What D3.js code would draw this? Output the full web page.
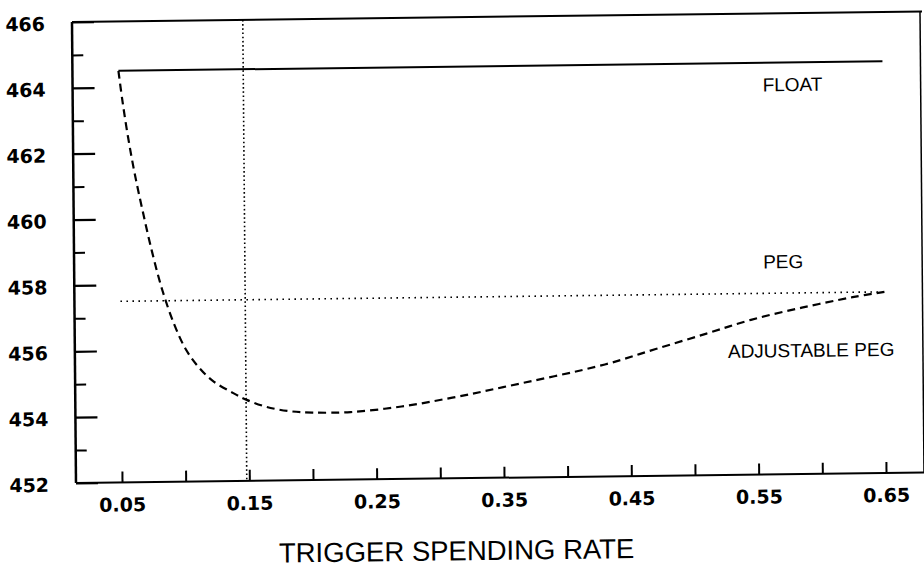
<!DOCTYPE html>
<html>
<head>
<meta charset="utf-8">
<script src="https://cdn.jsdelivr.net/npm/d3@7"></script>
<style>
  body { margin: 0; background: #fff; }
  svg { display: block; }
  .tick text { font-family: "DejaVu Sans", sans-serif; font-size: 19px; font-weight: bold; fill: #000; }
  .lbl { font-family: "Liberation Sans", Arial, sans-serif; font-size: 19px; fill: #000; }
</style>
</head>
<body>
<svg id="chart"></svg>
<script>
// values
var xMajor = [0.05, 0.15, 0.25, 0.35, 0.45, 0.55, 0.65];
var xAll = [0.05, 0.10, 0.15, 0.20, 0.25, 0.30, 0.35, 0.40, 0.45, 0.50, 0.55, 0.60, 0.65];
var yMajor = [452, 454, 456, 458, 460, 462, 464, 466];
var yMinor = [453, 455, 457, 459, 461, 463, 465];

var floatX = [0.05, 0.65];
var floatY = [464.5, 464.5];
var pegX = [0.05, 0.65];
var pegY = [457.5, 457.5];
var adjX = [0.05, 0.053, 0.057, 0.062, 0.068, 0.075, 0.083, 0.092, 0.101, 0.111, 0.122,
            0.138, 0.1485, 0.164, 0.182, 0.2, 0.23, 0.27, 0.31, 0.35, 0.43, 0.47,
            0.51, 0.545, 0.585, 0.625, 0.65];
var adjY = [464.5, 463.57, 462.51, 461.39, 460.25, 459.02, 457.82, 456.79, 456.02, 455.47, 455.05,
            454.67, 454.46, 454.24, 454.1, 454.05, 454.05, 454.2, 454.45, 454.75, 455.4, 455.85,
            456.3, 456.7, 457.05, 457.35, 457.5];
var triggerX = 0.148;

var width = 924, height = 567;
var pLeft = 76, pRight = 926, pTop = 22, pBottom = 483;

var svg = d3.select('#chart')
    .attr('width', width)
    .attr('height', height);

svg.append('rect').attr('width', width).attr('height', height).attr('fill', '#fff');

// the scan is slightly skewed, so the whole plot is tilted a bit
var g = svg.append('g')
    .attr('transform', 'translate(' + pLeft + ',' + pBottom + ') matrix(1,-0.0124,0.0087,1,0,0) translate(' + (-pLeft) + ',' + (-pBottom) + ')');

var x = d3.scaleLinear().domain([0.05, 0.65]).range([122, 886]);
var y = d3.scaleLinear().domain([452, 466]).range([pBottom, pTop]);

// frame
g.append('line').attr('x1', pLeft).attr('x2', pLeft).attr('y1', pTop).attr('y2', pBottom)
    .attr('stroke', '#000').attr('stroke-width', 2.5);
g.append('line').attr('x1', pLeft).attr('x2', pRight).attr('y1', pBottom).attr('y2', pBottom)
    .attr('stroke', '#000').attr('stroke-width', 2);
g.append('line').attr('x1', pLeft).attr('x2', pRight).attr('y1', pTop).attr('y2', pTop)
    .attr('stroke', '#000').attr('stroke-width', 2);
g.append('line').attr('x1', pRight - 2).attr('x2', pRight - 2).attr('y1', pTop).attr('y2', pBottom)
    .attr('stroke', '#000').attr('stroke-width', 1.5);

// y axis: major ticks with labels, minor ticks without
var yAx = g.append('g')
    .attr('transform', 'translate(' + pLeft + ',0)')
    .call(d3.axisLeft(y).tickValues(yMajor).tickSize(-22).tickPadding(27).tickFormat(d3.format('d')));
yAx.select('.domain').remove();
yAx.selectAll('.tick line').attr('stroke-width', 2.2);
yAx.selectAll('.tick text').attr('dy', null).attr('y', 8);

var yAx2 = g.append('g')
    .attr('transform', 'translate(' + pLeft + ',0)')
    .call(d3.axisLeft(y).tickValues(yMinor).tickSize(-11).tickFormat(''));
yAx2.select('.domain').remove();
yAx2.selectAll('.tick line').attr('stroke-width', 2);

// x axis
var xAx = g.append('g')
    .attr('transform', 'translate(0,' + pBottom + ')')
    .call(d3.axisBottom(x).tickValues(xAll).tickSize(-11)
      .tickFormat(function(d){ return xMajor.some(function(m){return Math.abs(m-d) < 1e-9;}) ? d3.format('.2f')(d) : ''; }));
xAx.select('.domain').remove();
xAx.selectAll('.tick line').attr('stroke-width', 2);
xAx.selectAll('.tick text').attr('dy', null).attr('y', 29);

// series
var line = d3.line().x(function(d){return x(d[0]);}).y(function(d){return y(d[1]);});
var lineCurve = d3.line().curve(d3.curveCatmullRom.alpha(0.5)).x(function(d){return x(d[0]);}).y(function(d){return y(d[1]);});

g.append('path')
    .attr('d', line(d3.zip(floatX, floatY)))
    .attr('fill', 'none').attr('stroke', '#000').attr('stroke-width', 2);

g.append('path')
    .attr('d', line(d3.zip(pegX, pegY)))
    .attr('fill', 'none').attr('stroke', '#000').attr('stroke-width', 1.6)
    .attr('stroke-dasharray', '1.6,4.4');

g.append('path')
    .attr('d', lineCurve(d3.zip(adjX, adjY)))
    .attr('fill', 'none').attr('stroke', '#000').attr('stroke-width', 2.2)
    .attr('stroke-dasharray', '8,5');

g.append('line')
    .attr('x1', x(triggerX)).attr('x2', x(triggerX))
    .attr('y1', pTop).attr('y2', pBottom)
    .attr('stroke', '#000').attr('stroke-width', 1.6)
    .attr('stroke-dasharray', '1.6,2.6');

// labels
g.append('text').attr('class', 'lbl').attr('x', 766).attr('y', 100).text('FLOAT');
g.append('text').attr('class', 'lbl').attr('x', 765).attr('y', 277).text('PEG');
g.append('text').attr('class', 'lbl').attr('x', 729).attr('y', 366).text('ADJUSTABLE PEG');

g.append('text').attr('class', 'lbl')
    .attr('x', 456).attr('y', 565)
    .attr('text-anchor', 'middle')
    .style('font-size', '27.5px')
    .text('TRIGGER SPENDING RATE');
</script>
</body>
</html>
